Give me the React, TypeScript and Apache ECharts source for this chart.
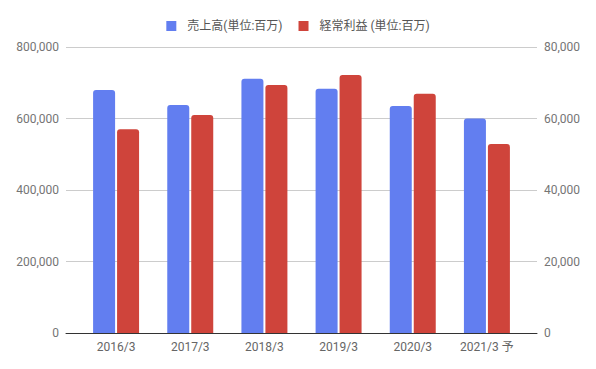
import React, { useEffect, useRef } from "react";
import * as echarts from "echarts";

const categories = ["2016/3", "2017/3", "2018/3", "2019/3", "2020/3", "2021/3 予"];
const salesName = "売上高(単位:百万)";
const profitName = "経常利益 (単位:百万)";
const sales = [680000, 638000, 711000, 683000, 635000, 600000];
const profit = [57000, 61000, 69400, 72200, 66900, 52900];
const leftTicks = { min: 0, max: 800000, interval: 200000 };
const rightTicks = { min: 0, max: 80000, interval: 20000 };

const FONT = "Roboto, 'Noto Sans CJK JP', sans-serif";
const fmt = (v: number) => v.toLocaleString("en-US");

export default function App() {
  const ref = useRef<HTMLDivElement>(null);
  useEffect(() => {
    if (!ref.current) return;
    const chart = echarts.init(ref.current, undefined, { renderer: "svg" });
    chart.setOption({
      animation: false,
      textStyle: { fontFamily: FONT },
      legend: {
        top: 15,
        left: "center",
        icon: "rect",
        itemWidth: 10,
        itemHeight: 10,
        itemGap: 16,
        textStyle: { color: "#555", fontSize: 12, fontFamily: FONT, padding: [0, 0, 0, 6] },
        data: [salesName, profitName],
      },
      grid: [
        { left: 66, right: 59, top: 47, bottom: 36 },
        { left: 79, right: 72, top: 47, bottom: 36 },
      ],
      xAxis: [
        {
          gridIndex: 0,
          type: "value",
          min: 0,
          max: 1,
          position: "bottom",
          axisLine: { show: true, onZero: false, lineStyle: { color: "#333", width: 1 } },
          axisTick: { show: false },
          axisLabel: { show: false },
          splitLine: { show: false },
        },
        {
          gridIndex: 1,
          type: "category",
          data: categories,
          axisLine: { show: false },
          axisTick: { show: false },
          axisLabel: { color: "#666", fontSize: 12, margin: 8, fontFamily: FONT },
        },
      ],
      yAxis: [
        {
          gridIndex: 0,
          type: "value",
          position: "left",
          ...leftTicks,
          axisLine: { show: false },
          axisTick: { show: false },
          axisLabel: { color: "#757575", fontSize: 12, margin: 7, formatter: fmt, fontFamily: FONT },
          splitLine: { lineStyle: { color: "#cccccc", width: 1 } },
        },
        {
          gridIndex: 0,
          type: "value",
          position: "right",
          ...rightTicks,
          axisLine: { show: false },
          axisTick: { show: false },
          axisLabel: { color: "#757575", fontSize: 12, margin: 7, formatter: fmt, fontFamily: FONT },
          splitLine: { show: false },
        },
        { gridIndex: 1, type: "value", ...leftTicks, show: false },
        { gridIndex: 1, type: "value", ...rightTicks, show: false },
      ],
      series: [
        {
          name: salesName,
          type: "bar",
          xAxisIndex: 1,
          yAxisIndex: 2,
          data: sales,
          barWidth: 22,
          barGap: "9%",
          itemStyle: { color: "#627ef0", borderRadius: [3, 3, 0, 0] },
        },
        {
          name: profitName,
          type: "bar",
          xAxisIndex: 1,
          yAxisIndex: 3,
          data: profit,
          barWidth: 22,
          barGap: "9%",
          itemStyle: { color: "#cf443b", borderRadius: [3, 3, 0, 0] },
        },
      ],
    });
    return () => chart.dispose();
  }, []);
  return <div ref={ref} style={{ width: 596, height: 369, margin: -8 }} />;
}
